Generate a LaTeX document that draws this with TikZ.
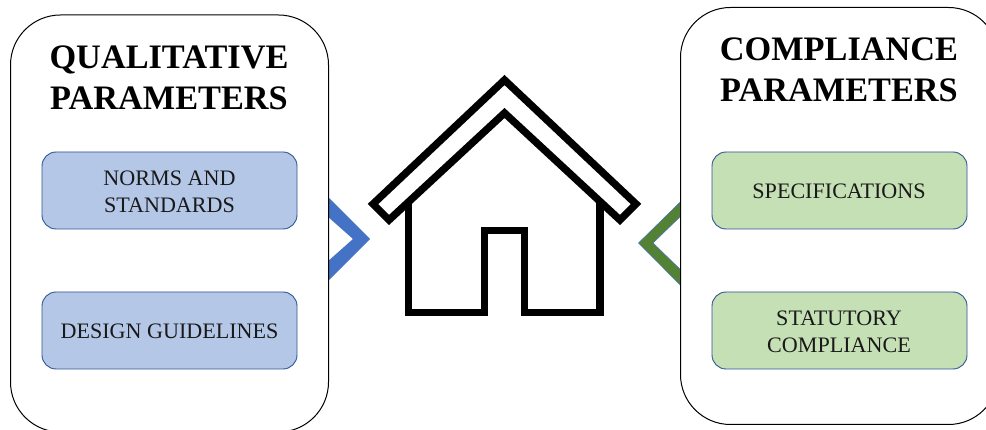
\documentclass[tikz,border=0pt]{standalone}
\usepackage{fontspec}
\setmainfont{Liberation Serif}
\definecolor{bluefill}{HTML}{B4C7E7}
\definecolor{greenfill}{HTML}{C5E0B4}
\definecolor{boxedge}{HTML}{2F5597}
\definecolor{bluechev}{HTML}{4472C4}
\definecolor{greenchev}{HTML}{548235}
\tikzset{
  panel/.style={draw=black,fill=white,line width=1pt,rounded corners=50pt,minimum width=318pt,minimum height=417pt,inner sep=0pt,outer sep=0pt},
  itembox/.style={draw=boxedge,line width=0.9pt,rounded corners=14pt,minimum width=255pt,minimum height=77pt,inner sep=0pt,outer sep=0pt},
  itemtext/.style={align=center,inner sep=0pt,text=black!90,font=\fontsize{22.1pt}{26.6pt}\selectfont},
  heading/.style={align=center,inner sep=0pt,font=\fontsize{34.3pt}{41.3pt}\selectfont\bfseries},
  housepart/.style={draw=black,line width=7.4pt,miter limit=10,line join=miter}
}
\begin{document}
\begin{tikzpicture}[x=1pt,y=-1pt]
\useasboundingbox (0,0) rectangle (986,430);
\clip (0,0) rectangle (986,430);
\fill[white] (0,0) rectangle (986,430);
% chevrons behind the panels
\fill[bluechev] (300,169) -- (370,239) -- (300,309) -- (300,286) -- (353,239) -- (300,192) -- cycle;
\filldraw[fill=greenchev,draw=bluechev,line width=0.5pt] (720,163) -- (638.5,243) -- (720,325) -- (720,308) -- (653,243) -- (720,178) -- cycle;
% panels
\node[panel] (left) at (169.5,223.5) {};
\node[panel] (right) at (839.5,216) {};
\node[heading] (lefttitle) at (169,78) {QUALITATIVE\\PARAMETERS};
\node[heading] (righttitle) at (839,70) {COMPLIANCE\\PARAMETERS};
\node[itembox,fill=bluefill] (norms) at (169.5,190.5) {};
\node[itembox,fill=bluefill] (design) at (169.5,330.5) {};
\node[itembox,fill=greenfill] (spec) at (839.5,190.5) {};
\node[itembox,fill=greenfill] (stat) at (839.5,330.5) {};
\node[itemtext] (normstext) at (169.5,191.5) {NORMS AND\\STANDARDS};
\node[itemtext] (designtext) at (169.5,331) {DESIGN GUIDELINES};
\node[itemtext] (spectext) at (839,191) {SPECIFICATIONS};
\node[itemtext] (stattext) at (839,331.5) {STATUTORY\\COMPLIANCE};
% house
\draw[housepart] (408.5,202) -- (408.5,312.5) -- (484.5,312.5) -- (484.5,230.5) -- (524.5,230.5) -- (524.5,312.5) -- (600,312.5) -- (600,202);
\draw[housepart] (504.5,80) -- (636,204) -- (620,220) -- (504.5,113) -- (389,220) -- (373,204) -- cycle;
\end{tikzpicture}
\end{document}
